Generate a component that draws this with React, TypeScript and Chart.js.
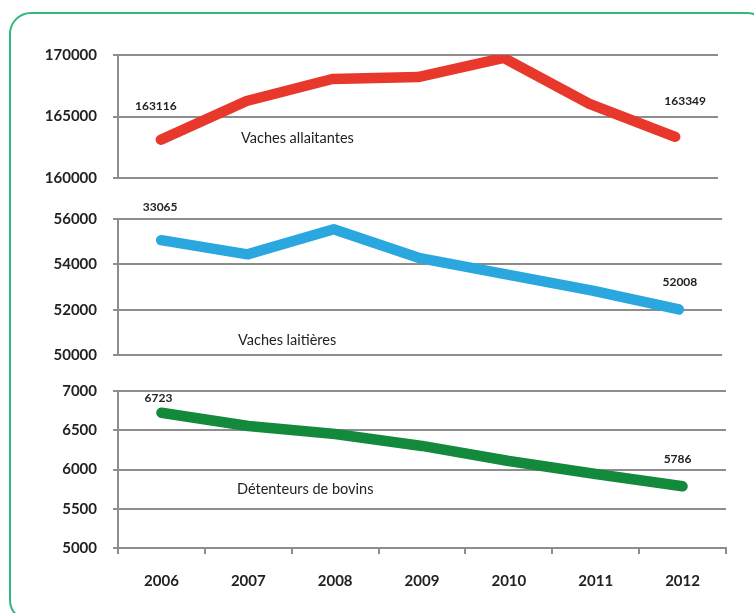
import React, { useEffect, useRef } from "react";
import { Chart, registerables } from "chart.js";

Chart.register(...registerables);

// ---------- data ----------
const years = ["2006", "2007", "2008", "2009", "2010", "2011", "2012"];
const allaitantes = [163116, 166260, 168050, 168210, 169760, 166020, 163349];
const laitieres = [55065, 54440, 55550, 54270, 53560, 52840, 52008];
const detenteurs = [6723, 6554, 6452, 6300, 6108, 5943, 5786];

const allaitantesRange = [160000, 170000, 5000];
const laitieresRange = [50000, 56000, 2000];
const detenteursRange = [5000, 7000, 500];

const seriesNames = ["Vaches allaitantes", "Vaches laitières", "Détenteurs de bovins"];
const allaitantesLabels = ["163116", "163349"];
const laitieresLabels = ["33065", "52008"];
const detenteursLabels = ["6723", "5786"];

// ---------- styles ----------
const FONT = "Lato, 'Open Sans', sans-serif";
const GRID = "#8d8d8d";
const TEXT = "#222222";

type Panel = {
  top: number;
  height: number;
  padRight: number;
  showX: boolean;
  values: number[];
  range: number[];
  color: string;
  name: string;
  nameDx: number;
  nameDy: number;
  labels: string[];
  labelOffsets: number[][];
};

const panels: Panel[] = [
  {
    top: 30, height: 173, padRight: 36, showX: false,
    values: allaitantes, range: allaitantesRange, color: "#e8382c",
    name: seriesNames[0], nameDx: 123, nameDy: 83,
    labels: allaitantesLabels, labelOffsets: [[-5, -34], [10, -36]],
  },
  {
    top: 194, height: 186, padRight: 32, showX: false,
    values: laitieres, range: laitieresRange, color: "#2ba7df",
    name: seriesNames[1], nameDx: 120, nameDy: 121,
    labels: laitieresLabels, labelOffsets: [[-1, -33], [1, -27]],
  },
  {
    top: 366, height: 247, padRight: 28, showX: true,
    values: detenteurs, range: detenteursRange, color: "#13893c",
    name: seriesNames[2], nameDx: 119, nameDy: 98,
    labels: detenteursLabels, labelOffsets: [[-3, -15], [-5, -27]],
  },
];

function makeTextPlugin(p: Panel) {
  return {
    id: "textMarks",
    afterDatasetsDraw(chart: any) {
      const ctx = chart.ctx;
      const xs = chart.scales.x;
      const ys = chart.scales.y;
      const area = chart.chartArea;
      ctx.save();
      ctx.fillStyle = TEXT;
      ctx.textAlign = "center";
      ctx.textBaseline = "middle";
      ctx.font = `bold 12px ${FONT}`;
      const idx = [0, p.values.length - 1];
      idx.forEach((i, k) => {
        const x = xs.getPixelForValue(i) + p.labelOffsets[k][0];
        const y = ys.getPixelForValue(p.values[i]) + p.labelOffsets[k][1];
        ctx.fillText(p.labels[k], x, y);
      });
      ctx.font = `14.5px ${FONT}`;
      ctx.textAlign = "left";
      ctx.fillText(p.name, area.left + p.nameDx, area.top + p.nameDy);
      ctx.restore();
    },
  };
}

function PanelChart({ p }: { p: Panel }) {
  const ref = useRef<HTMLCanvasElement | null>(null);
  useEffect(() => {
    if (!ref.current) return;
    const xScale: any = {
      type: "category",
      display: p.showX,
      offset: true,
      grid: {
        display: true,
        drawOnChartArea: false,
        drawTicks: true,
        tickLength: 6,
        color: GRID,
        lineWidth: 2,
        offset: true,
      },
      border: { display: true, color: GRID, width: 2 },
      ticks: {
        color: TEXT,
        font: { family: FONT, size: 15, weight: "bold" },
        padding: 18,
        maxRotation: 0,
        autoSkip: false,
      },
    };
    if (p.showX) {
      xScale.afterFit = (s: any) => {
        s.height = 65;
      };
    }
    const chart = new Chart(ref.current, {
      type: "line",
      data: {
        labels: years,
        datasets: [
          {
            data: p.values,
            borderColor: p.color,
            backgroundColor: p.color,
            borderWidth: 10.5,
            borderCapStyle: "round",
            borderJoinStyle: "round",
            pointRadius: 0,
            pointHoverRadius: 0,
            tension: 0,
            fill: false,
          },
        ],
      },
      options: {
        animation: false,
        responsive: false,
        maintainAspectRatio: false,
        events: [],
        layout: { padding: { top: 0, bottom: 0, left: 0, right: p.padRight } },
        plugins: { legend: { display: false }, tooltip: { enabled: false }, title: { display: false } },
        scales: {
          x: xScale,
          y: {
            type: "linear",
            min: p.range[0],
            max: p.range[1],
            grid: { color: GRID, lineWidth: 2, tickLength: 5, drawTicks: true },
            border: { display: true, color: GRID, width: 2 },
            ticks: {
              stepSize: p.range[2],
              color: TEXT,
              font: { family: FONT, size: 15, weight: "bold" },
              padding: 16,
              callback: (v: any) => String(v),
            },
            afterFit: (s: any) => {
              s.width = 118;
            },
          },
        },
      } as any,
      plugins: [makeTextPlugin(p)],
    });
    return () => chart.destroy();
  }, [p]);
  return (
    <canvas
      ref={ref}
      width={754}
      height={p.height}
      style={{ position: "absolute", left: 0, top: p.top, width: 754, height: p.height }}
    />
  );
}

export default function App() {
  return (
    <div
      style={{
        position: "fixed",
        left: 0,
        top: 0,
        width: 754,
        height: 613,
        overflow: "hidden",
        background: "#ffffff",
      }}
    >
      <div
        style={{
          position: "absolute",
          left: 9,
          top: 12,
          width: 760,
          height: 610,
          border: "2.5px solid #2dba7c",
          borderRadius: 22,
          boxSizing: "border-box",
        }}
      />
      {panels.map((p, i) => (
        <PanelChart key={i} p={p} />
      ))}
    </div>
  );
}
